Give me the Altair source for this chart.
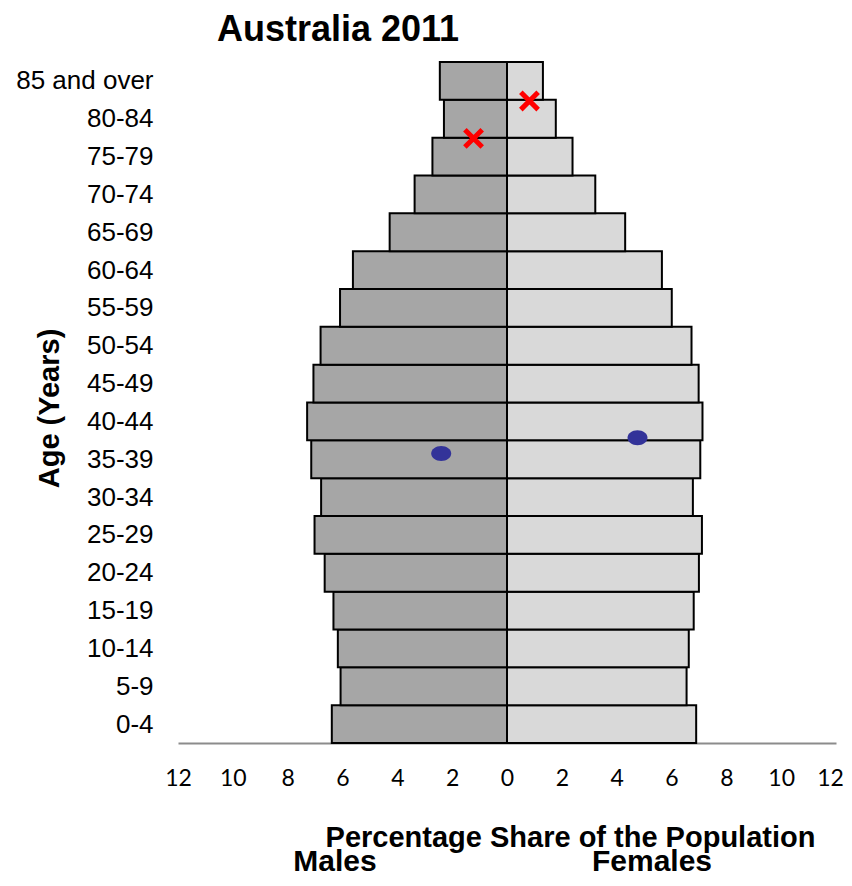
import altair as alt
import pandas as pd

# ---- data ----
age_groups = ["0-4", "5-9", "10-14", "15-19", "20-24", "25-29", "30-34", "35-39",
              "40-44", "45-49", "50-54", "55-59", "60-64", "65-69", "70-74",
              "75-79", "80-84", "85 and over"]
males = [6.39, 6.07, 6.17, 6.33, 6.65, 7.02, 6.78, 7.14, 7.29, 7.06, 6.80, 6.09,
         5.62, 4.28, 3.37, 2.72, 2.30, 2.45]
females = [6.90, 6.55, 6.63, 6.81, 7.00, 7.11, 6.78, 7.05, 7.13, 6.99, 6.73, 6.01,
           5.65, 4.31, 3.22, 2.39, 1.78, 1.31]

# annotation markers (x in % share, y in age-band index units)
cross_x = [-1.22, 0.82]
cross_y = [15.98, 16.97]
dot_x = [-2.40, 4.76]
dot_y = [7.65, 8.07]

x_ticks = list(range(-12, 13, 2))
chart_title = "Australia 2011"
sex_names = ["Males", "Females"]

rows = []
for i, a in enumerate(age_groups):
    rows.append({"age": a, "lo": i, "hi": i + 1, "sex": "Male", "v": -males[i], "z": 0})
    rows.append({"age": a, "lo": i, "hi": i + 1, "sex": "Female", "v": females[i], "z": 0})
df = pd.DataFrame(rows)

cross_df = pd.DataFrame({"x": cross_x, "y": cross_y})
dot_df = pd.DataFrame({"x": dot_x, "y": dot_y})
sex_df = pd.DataFrame({"label": sex_names, "px": [157, 474]})
title_df = pd.DataFrame({"label": [chart_title]})

label_array = "[" + ",".join("'" + a + "'" for a in age_groups) + "]"

W, H = 658, 681
xscale = alt.Scale(domain=[-12, 12], nice=False, zero=False)
yscale = alt.Scale(domain=[0, 18], nice=False, zero=False)

x_axis = alt.Axis(
    values=x_ticks, labelExpr="abs(datum.value)", ticks=False, tickSize=0, grid=False,
    domain=True, domainColor="#8c8c8c", domainWidth=2,
    labelFont="Lato", labelFontSize=23, labelColor="#000000",
    labelPadding=24, labelFlush=False,
    labelOffset={"condition": {"test": "datum.value == 12", "value": -6}, "value": 0},
    title="Percentage Share of the Population", titleFont="Liberation Sans",
    titleFontSize=29, titleFontWeight="bold", titleColor="#000000",
    titleX=392, titleY=103, titleAlign="center", titleBaseline="alphabetic",
)
y_axis = alt.Axis(
    values=[i + 0.5 for i in range(len(age_groups))],
    labelExpr=label_array + "[floor(datum.value)]",
    ticks=False, tickSize=0, grid=False, domain=False,
    labelFont="Liberation Sans", labelFontSize=26, labelColor="#000000",
    labelPadding=25, labelBaseline="middle",
    title="Age (Years)", titleFont="Liberation Sans", titleFontSize=29,
    titleFontWeight="bold", titleColor="#000000", titleAngle=-90,
    titleX=-129, titleY=346, titleAlign="center", titleBaseline="middle",
)

bars = alt.Chart(df).mark_rect(stroke="#000000", strokeWidth=2).encode(
    x=alt.X("v:Q", scale=xscale, axis=x_axis),
    x2="z:Q",
    y=alt.Y("lo:Q", scale=yscale, axis=y_axis),
    y2="hi:Q",
    color=alt.Color("sex:N", scale=alt.Scale(domain=["Male", "Female"],
                                            range=["#A6A6A6", "#D9D9D9"]), legend=None),
)

crosses = alt.Chart(cross_df).mark_point(
    shape="M-1,-1L1,1M-1,1L1,-1", filled=False, color="#FF0000",
    strokeWidth=5, size=300, opacity=1,
).encode(x=alt.X("x:Q", scale=xscale), y=alt.Y("y:Q", scale=yscale))

dots = alt.Chart(dot_df).mark_point(
    shape="M-1,0A1,0.75,0,1,1,1,0A1,0.75,0,1,1,-1,0Z", filled=True,
    color="#333399", size=400, opacity=1, strokeWidth=0,
).encode(x=alt.X("x:Q", scale=xscale), y=alt.Y("y:Q", scale=yscale))

sex_labels = alt.Chart(sex_df).mark_text(
    font="Liberation Sans", fontSize=30, fontWeight="bold", color="#000000",
    align="center", baseline="alphabetic",
).encode(x=alt.X("px:Q", scale=None), y=alt.value(809), text="label:N")

title_text = alt.Chart(title_df).mark_text(
    font="Liberation Sans", fontSize=36, fontWeight="bold", color="#000000",
    align="center", baseline="alphabetic",
).encode(x=alt.value(160), y=alt.value(-21), text="label:N")

chart = alt.layer(bars, crosses, dots, sex_labels, title_text).properties(
    width=W, height=H,
    autosize=alt.AutoSizeParams(type="none"),
    padding={"left": 170, "top": 54, "right": 8, "bottom": 135},
    background="#FFFFFF",
).configure_view(stroke=None)

chart.save("out.html", embed_options={"renderer": "svg", "actions": False})
